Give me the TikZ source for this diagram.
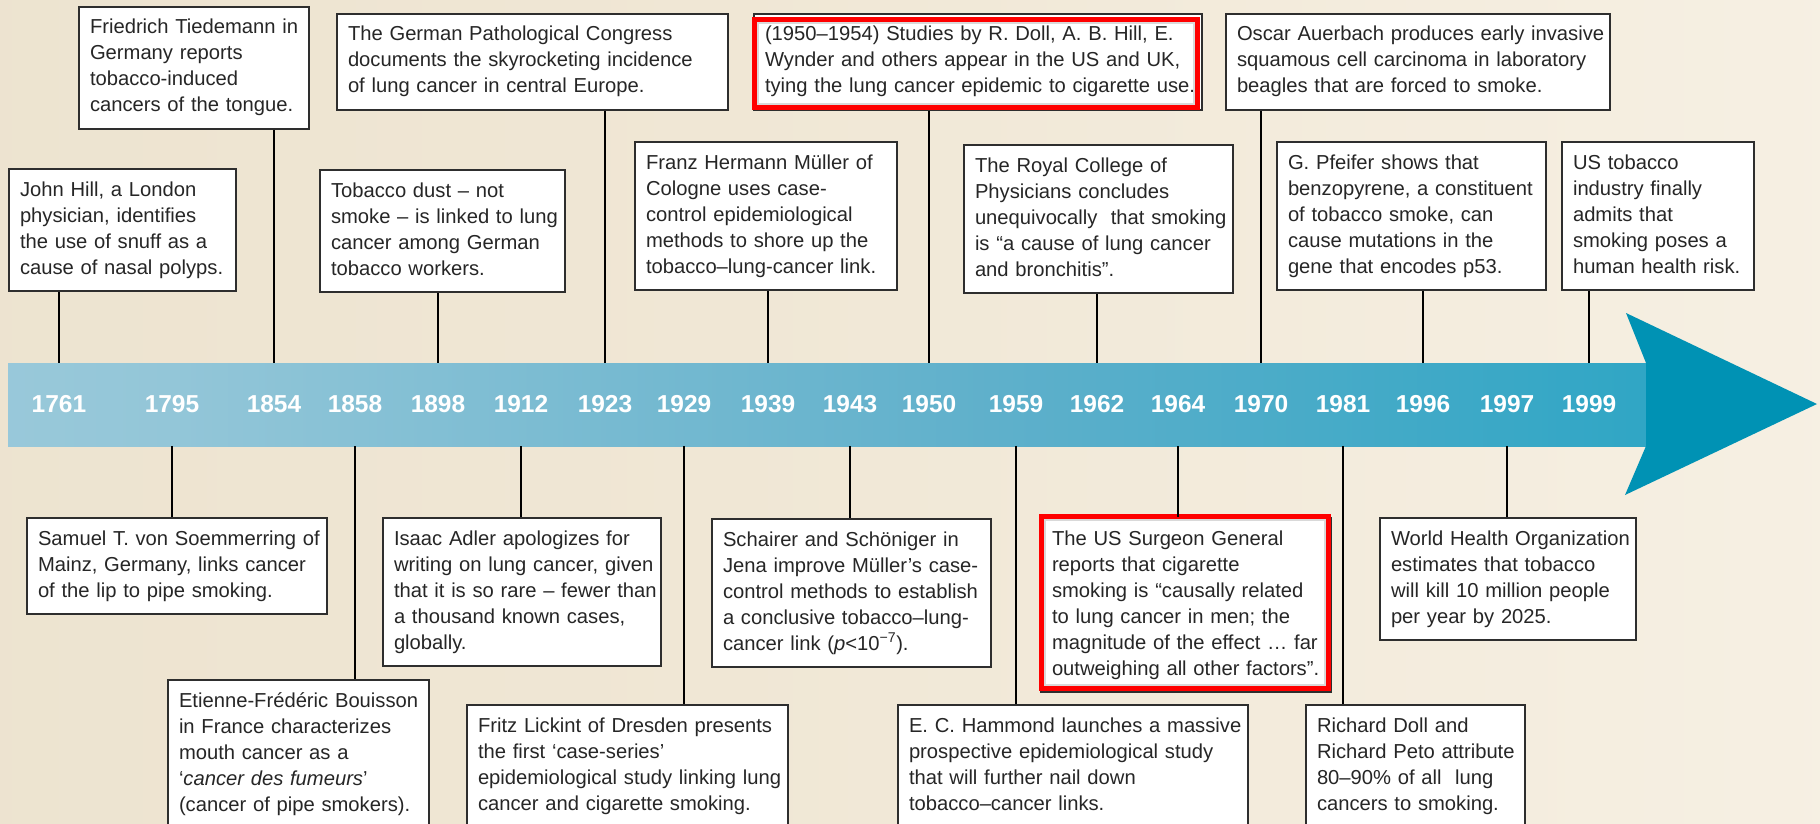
\documentclass[tikz,border=0pt]{standalone}
\usepackage{fontspec}
\setmainfont{Liberation Sans}
\usetikzlibrary{calc}
\definecolor{txt}{HTML}{262626}
\definecolor{boxline}{HTML}{2E2E2E}
\definecolor{bga}{HTML}{E9DFCA}
\definecolor{bgb}{HTML}{F0E7D5}
\definecolor{bgc}{HTML}{F7F1E5}
\definecolor{bgd}{HTML}{FCFAF4}
\definecolor{ba}{HTML}{B3D5E2}
\definecolor{bb}{HTML}{93C6D8}
\definecolor{bc}{HTML}{5FB0CB}
\definecolor{bd}{HTML}{30A6C5}
\definecolor{be}{HTML}{009DC0}
\definecolor{bf}{HTML}{0095B7}
\definecolor{headc}{HTML}{0092B4}
\definecolor{hired}{HTML}{FF0000}
\pgfdeclarehorizontalshading{bgshade}{100bp}{color(0bp)=(bga); color(45bp)=(bgb); color(80bp)=(bgc); color(100bp)=(bgd)}
\pgfdeclarehorizontalshading{bandshade}{100bp}{color(0bp)=(ba); color(30bp)=(bb); color(55bp)=(bc); color(75bp)=(bd); color(88bp)=(be); color(100bp)=(bf)}
\newcommand\bodyfont{\fontsize{20.2}{26}\selectfont}
\newcommand\yrfont{\fontsize{24.5}{28}\selectfont\bfseries}
\newcommand\boxtext[1]{\begin{tabular}{@{}l@{}}\rule{0pt}{27pt}#1\rule[-17pt]{0pt}{17pt}\end{tabular}}
\tikzset{
  box/.style={draw=boxline, line width=2pt, fill=white, anchor=north west,
    inner xsep=11pt, inner ysep=0pt, text=txt, font=\bodyfont},
  conn/.style={draw=black, line width=1.6pt},
  yr/.style={text=white, font=\yrfont, inner sep=0pt},
  hilite/.style={draw=hired, line width=5pt},
  bandnode/.style={shade, shading=bandshade, draw=none, anchor=north west, inner sep=0pt,
    minimum width=1638pt, minimum height=83pt},
}
\begin{document}
\begin{tikzpicture}[x=1pt,y=-1pt]
\useasboundingbox (0,0) rectangle (1820,824);
\shade[shading=bgshade] (0,0) rectangle (1820,824);

% timeline band and arrow head
\node[bandnode] (band) at (8,363) {};
\fill[headc] (1626,313) -- (1817,404) -- (1625,495) -- (1646,446) -- (1646,363) -- cycle;

% years
\foreach \yr/\xx in {1761/59, 1795/172, 1854/274, 1858/355, 1898/438, 1912/521,
  1923/605, 1929/684, 1939/768, 1943/850, 1950/929, 1959/1016, 1962/1097,
  1964/1178, 1970/1261, 1981/1343, 1996/1423, 1997/1507, 1999/1589}
  \node[yr] (y\yr) at (\xx,404) {\yr};

% upper boxes
\node[box, text width=208pt] (tied) at (78,6) {\boxtext{Friedrich Tiedemann in\\Germany reports\\tobacco-induced\\cancers of the tongue.}};
\node[box, text width=369pt] (germ) at (336,13) {\boxtext{The German Pathological Congress\\documents the skyrocketing incidence\\of lung cancer in central Europe.}};
\node[box, text width=426pt] (doll) at (753,13) {\boxtext{(1950–1954) Studies by R. Doll, A. B. Hill, E.\\Wynder and others appear in the US and UK,\\tying the lung cancer epidemic to cigarette use.}};
\node[box, text width=362pt] (auer) at (1225,13) {\boxtext{Oscar Auerbach produces early invasive\\squamous cell carcinoma in laboratory\\beagles that are forced to smoke.}};
\node[box, text width=205pt] (hill) at (8,168) {\boxtext{John Hill, a London\\physician, identifies\\the use of snuff as a\\cause of nasal polyps.}};
\node[box, text width=223pt] (dust) at (319,169) {\boxtext{Tobacco dust – not\\smoke – is linked to lung\\cancer among German\\tobacco workers.}};
\node[box, text width=240pt] (muel) at (634,141) {\boxtext{Franz Hermann Müller of\\Cologne uses case-\\control epidemiological\\methods to shore up the\\tobacco–lung-cancer link.}};
\node[box, text width=247pt] (royal) at (963,144) {\boxtext{The Royal College of\\Physicians concludes\\unequivocally~ that smoking\\is “a cause of lung cancer\\and bronchitis”.}};
\node[box, text width=247pt] (pfei) at (1276,141) {\boxtext{G. Pfeifer shows that\\benzopyrene, a constituent\\of tobacco smoke, can\\cause mutations in the\\gene that encodes p53.}};
\node[box, text width=170pt] (ustob) at (1561,141) {\boxtext{US tobacco\\industry finally\\admits that\\smoking poses a\\human health risk.}};

% lower boxes
\node[box, text width=278pt] (soem) at (26,517) {\boxtext{Samuel T. von Soemmerring of\\Mainz, Germany, links cancer\\of the lip to pipe smoking.}};
\node[box, text width=239pt] (boui) at (167,679) {\boxtext{Etienne-Frédéric Bouisson\\in France characterizes\\mouth cancer as a\\‘\textit{cancer des fumeurs}’\\(cancer of pipe smokers).}};
\node[box, text width=256pt] (adler) at (382,517) {\boxtext{Isaac Adler apologizes for\\writing on lung cancer, given\\that it is so rare – fewer than\\a thousand known cases,\\globally.}};
\node[box, text width=299pt] (lick) at (466,704) {\boxtext{Fritz Lickint of Dresden presents\\the first ‘case-series’\\epidemiological study linking lung\\cancer and cigarette smoking.}};
\node[box, text width=257pt] (scha) at (711,518) {\boxtext{Schairer and Schöniger in\\Jena improve Müller’s case-\\control methods to establish\\a conclusive tobacco–lung-\\cancer link (\textit{p}<10\textsuperscript{−7}).}};
\node[box, text width=328pt] (hamm) at (897,704) {\boxtext{E. C. Hammond launches a massive\\prospective epidemiological study\\that will further nail down\\tobacco–cancer links.}};
\node[box, text width=268pt] (surg) at (1040,517) {\boxtext{The US Surgeon General\\reports that cigarette\\smoking is “causally related\\to lung cancer in men; the\\magnitude of the effect … far\\outweighing all other factors”.}};
\node[box, text width=197pt] (peto) at (1305,704) {\boxtext{Richard Doll and\\Richard Peto attribute\\80–90\% of all~ lung\\cancers to smoking.}};
\node[box, text width=234pt] (who) at (1379,517) {\boxtext{World Health Organization\\estimates that tobacco\\will kill 10 million people\\per year by 2025.}};

% red highlights
\draw[black!15, line width=1.5pt] ($(doll.north west)+(5,10)$) rectangle ($(doll.south east)+(-9,-7)$);
\draw[hilite] ($(doll.north west)+(1.5,6.5)$) rectangle ($(doll.south east)+(-5.5,-3.5)$);
\draw[black!15, line width=1.5pt] ($(surg.north west)+(5,3)$) rectangle ($(surg.south east)+(-7,-8)$);
\draw[hilite] ($(surg.north west)+(1.5,-0.5)$) rectangle ($(surg.south east)+(-3.5,-4.5)$);

% connectors
\foreach \n/\yr in {hill/1761, tied/1854, dust/1898, germ/1923, muel/1939, doll/1950,
  royal/1962, auer/1970, pfei/1996, ustob/1999}
  \draw[conn] (\n.south -| y\yr) -- (band.north -| y\yr);
\foreach \n/\yr in {soem/1795, boui/1858, adler/1912, lick/1929, scha/1943, hamm/1959,
  surg/1964, peto/1981, who/1997}
  \draw[conn] (band.south -| y\yr) -- (\n.north -| y\yr);
\end{tikzpicture}
\end{document}
